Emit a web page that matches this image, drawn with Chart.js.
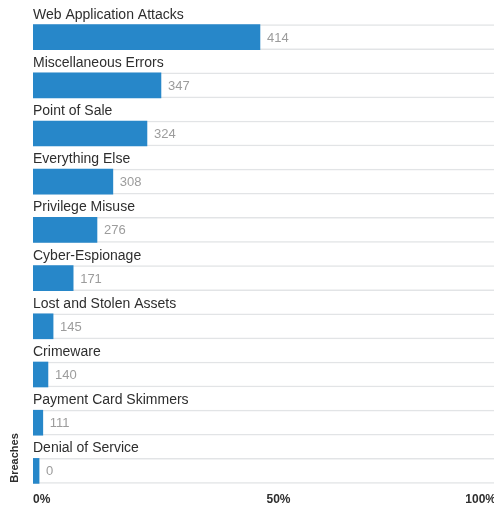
<!DOCTYPE html>
<html>
<head>
<meta charset="utf-8">
<script src="https://cdn.jsdelivr.net/npm/chart.js@4"></script>
<style>
  html, body { margin: 0; padding: 0; background: #fff; overflow: hidden; }
  #wrap { position: relative; width: 510px; height: 508px; }
</style>
</head>
<body>
<div id="wrap"><canvas id="cPatterns"></canvas></div>
<script>
// ── Datos ─────────────────────────────────────────────────────────
const categories = [
  'Web Application Attacks', 'Miscellaneous Errors', 'Point of Sale',
  'Everything Else', 'Privilege Misuse', 'Cyber-Espionage',
  'Lost and Stolen Assets', 'Crimeware', 'Payment Card Skimmers',
  'Denial of Service'
];
const breaches = [414, 347, 324, 308, 276, 171, 145, 140, 111, 0];
const share    = [48.6, 27.4, 24.4, 17.1, 13.7, 8.6, 4.3, 3.2, 2.1, 1.3];
const tickVals   = [0, 50, 100];
const tickLabels = ['0%', '50%', '100%'];
const axisTitle  = 'Breaches';

const FONT = '"Liberation Sans", Arial, Helvetica, sans-serif';
const BLUE = '#2787c9';

// ── Etiquetas de filas, valores y eje ─────────────────────────────
const rowLabels = {
  id: 'rowLabels',
  afterDatasetsDraw(chart) {
    const { ctx } = chart;
    const x = chart.scales.x;
    const x0 = x.getPixelForValue(0);
    const meta = chart.getDatasetMeta(0);
    ctx.save();
    meta.data.forEach((bar, i) => {
      const top = bar.y - bar.height / 2;
      ctx.font = '14px ' + FONT;
      ctx.fillStyle = '#2e2e2e';
      ctx.textAlign = 'left';
      ctx.textBaseline = 'alphabetic';
      ctx.fillText(categories[i], x0, top - 6);

      ctx.font = '13px ' + FONT;
      ctx.fillStyle = '#9c9c9c';
      ctx.textBaseline = 'middle';
      ctx.fillText(String(breaches[i]), bar.x + 7, bar.y + 1);
    });

    // ticks del eje x
    ctx.font = 'bold 12px ' + FONT;
    ctx.fillStyle = '#2e2e2e';
    ctx.textBaseline = 'middle';
    ctx.textAlign = 'left';
    const visRight = Math.min(window.innerWidth, chart.width);
    tickVals.forEach((v, i) => {
      const w = ctx.measureText(tickLabels[i]).width;
      const px = Math.min(x.getPixelForValue(v), visRight - w + 2);
      ctx.fillText(tickLabels[i], px, 500);
    });

    // titulo del eje
    ctx.font = 'bold 11px ' + FONT;
    ctx.translate(15, 458);
    ctx.rotate(-Math.PI / 2);
    ctx.textAlign = 'center';
    ctx.fillText(axisTitle, 0, 0);
    ctx.restore();
  }
};

// ── Grafico ───────────────────────────────────────────────────────
new Chart(document.getElementById('cPatterns'), {
  type: 'bar',
  data: {
    labels: categories,
    datasets: [
      {
        data: share,
        backgroundColor: BLUE,
        borderWidth: 0,
        barThickness: 25,
        grouped: false,
        order: 0,
      },
      {
        // pista de fondo de cada fila
        data: categories.map(() => 100),
        backgroundColor: '#ffffff',
        borderColor: '#e2e4e6',
        borderWidth: { top: 1.5, bottom: 1.5, left: 0, right: 0 },
        borderSkipped: false,
        barThickness: 25,
        grouped: false,
        order: 1,
      },
    ],
  },
  options: {
    indexAxis: 'y',
    responsive: true, maintainAspectRatio: false,
    animation: false,
    layout: { padding: { left: 33, right: 10, top: 13, bottom: 13 } },
    plugins: { legend: { display: false }, tooltip: { enabled: false } },
    scales: {
      x: { display: false, min: 0, max: 100 },
      y: { display: false },
    },
  },
  plugins: [rowLabels],
});
</script>
</body>
</html>
